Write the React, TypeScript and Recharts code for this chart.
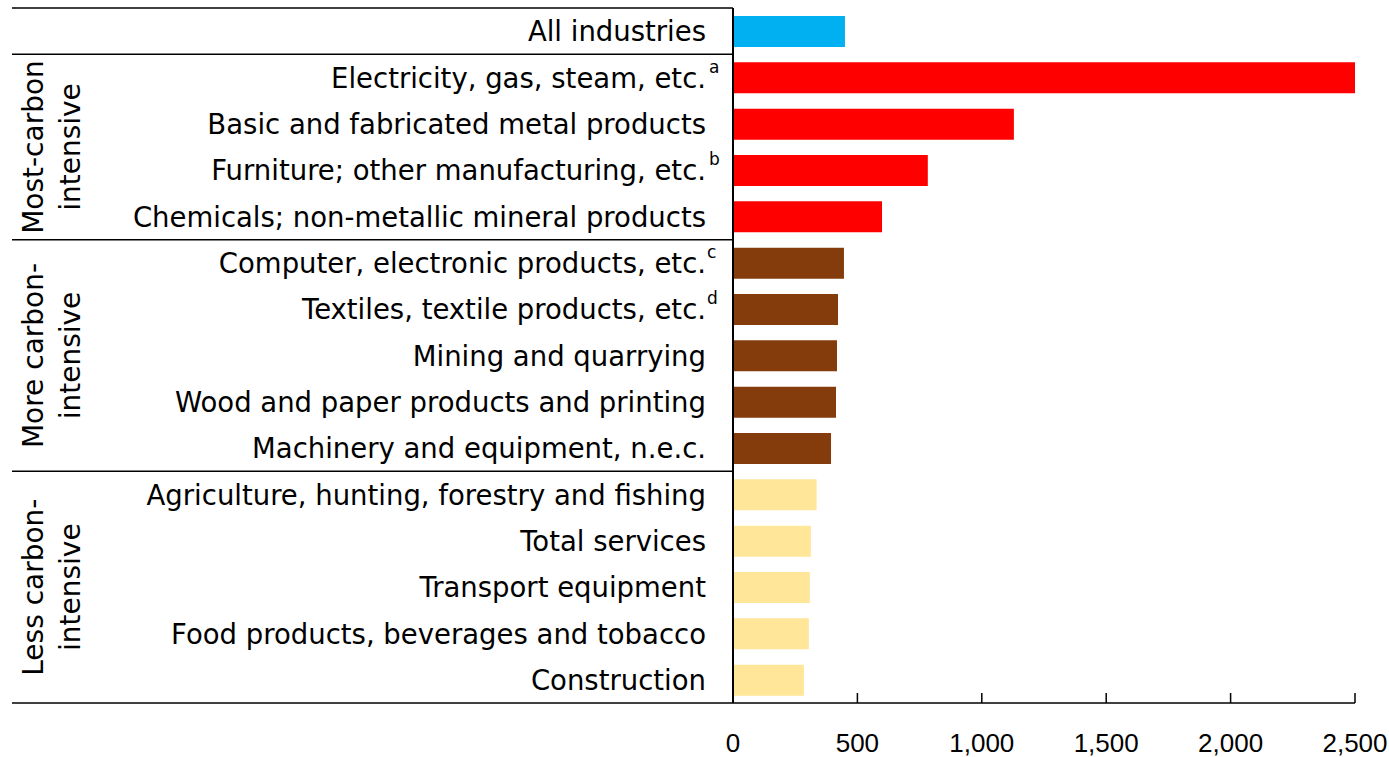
import { Bar, BarChart, Cell, XAxis, YAxis } from "recharts";

// Industries, top to bottom as drawn
const categories = [
  "All industries",
  "Electricity, gas, steam, etc.",
  "Basic and fabricated metal products",
  "Furniture; other manufacturing, etc.",
  "Chemicals; non-metallic mineral products",
  "Computer, electronic products, etc.",
  "Textiles, textile products, etc.",
  "Mining and quarrying",
  "Wood and paper products and printing",
  "Machinery and equipment, n.e.c.",
  "Agriculture, hunting, forestry and fishing",
  "Total services",
  "Transport equipment",
  "Food products, beverages and tobacco",
  "Construction",
];
const notes = ["", "a", "", "b", "", "c", "d", "", "", "", "", "", "", "", ""];
const values = [450, 2500, 1129, 783, 599, 446, 422, 418, 414, 394, 336, 313, 309, 305, 285];
const groupOf = [
  "all",
  "most", "most", "most", "most",
  "more", "more", "more", "more", "more",
  "less", "less", "less", "less", "less",
];
const groupLabels: Record<string, string[]> = {
  most: ["Most-carbon", "intensive"],
  more: ["More carbon-", "intensive"],
  less: ["Less carbon-", "intensive"],
};
const xTicks = [0, 500, 1000, 1500, 2000, 2500];

const COLORS: Record<string, string> = {
  all: "#00B0F0",
  most: "#FF0000",
  more: "#843C0C",
  less: "#FFE699",
};

const FONT = "'DejaVu Sans', sans-serif";
const W = 1389;
const H = 757;
const MARGIN = { top: 8, right: 34, bottom: 24, left: 12 };
const X_AXIS_H = 30;
const AXIS_X = 733;
const ROW_H = (H - MARGIN.top - MARGIN.bottom - X_AXIS_H) / categories.length;

const data = categories.map((name, i) => ({ name, value: values[i], group: groupOf[i] }));

function CategoryTick(props: any) {
  const { x, y, payload } = props;
  const i = payload.index as number;
  const g = groupOf[i];
  const isStart = i === 0 || groupOf[i - 1] !== g;
  const isLast = i === categories.length - 1;
  const count = groupOf.filter((k) => k === g).length;
  const midY = y + ((count - 1) / 2) * ROW_H;
  const lines = groupLabels[g];
  const noteDx = notes[i] === "c" || notes[i] === "d" ? 1 : 3;
  return (
    <g>
      <text x={x} y={y} dy={10} textAnchor="end" fontFamily={FONT} fontSize={27.5} fill="#000">
        {payload.value}
      </text>
      {notes[i] && (
        <text x={x + noteDx} y={y - 5} fontFamily={FONT} fontSize={17} fill="#000">
          {notes[i]}
        </text>
      )}
      {isStart && (
        <line x1={MARGIN.left} x2={AXIS_X} y1={y - ROW_H / 2} y2={y - ROW_H / 2} stroke="#000" strokeWidth={1.5} />
      )}
      {isLast && (
        <line x1={MARGIN.left} x2={AXIS_X} y1={y + ROW_H / 2} y2={y + ROW_H / 2} stroke="#000" strokeWidth={1.5} />
      )}
      {isStart && lines && (
        <g transform={`rotate(-90 ${MARGIN.left} ${midY})`}>
          <text x={MARGIN.left} y={midY + 31} textAnchor="middle" fontFamily={FONT} fontSize={28} fill="#000">
            {lines[0]}
          </text>
          <text x={MARGIN.left} y={midY + 68} textAnchor="middle" fontFamily={FONT} fontSize={28} fill="#000">
            {lines[1]}
          </text>
        </g>
      )}
    </g>
  );
}

function ValueTick(props: any) {
  const { x, y, payload } = props;
  return (
    <g>
      {payload.value !== 0 && <line x1={x} x2={x} y1={y - 10} y2={y} stroke="#000" strokeWidth={1.5} />}
      <text
        x={x}
        y={y}
        dy={49}
        textAnchor="middle"
        fontFamily="'Liberation Sans', sans-serif"
        fontSize={26}
        fill="#000"
      >
        {payload.value.toLocaleString("en-US")}
      </text>
    </g>
  );
}

export default function App() {
  return (
    <div style={{ position: "absolute", left: 0, top: 0, background: "#fff" }}>
      <BarChart width={W} height={H} data={data} layout="vertical" margin={MARGIN}>
        <XAxis
          type="number"
          domain={[0, 2500]}
          ticks={xTicks}
          interval={0}
          height={X_AXIS_H}
          axisLine={{ stroke: "#000", strokeWidth: 1.5 }}
          tickLine={false}
          tickSize={0}
          tickMargin={0}
          tick={<ValueTick />}
        />
        <YAxis
          type="category"
          dataKey="name"
          width={AXIS_X - MARGIN.left}
          interval={0}
          axisLine={{ stroke: "#000", strokeWidth: 2 }}
          tickLine={false}
          tickSize={0}
          tickMargin={27}
          tick={<CategoryTick />}
        />
        <Bar dataKey="value" barSize={31} isAnimationActive={false}>
          {data.map((d, i) => (
            <Cell key={i} fill={COLORS[d.group]} />
          ))}
        </Bar>
      </BarChart>
    </div>
  );
}
